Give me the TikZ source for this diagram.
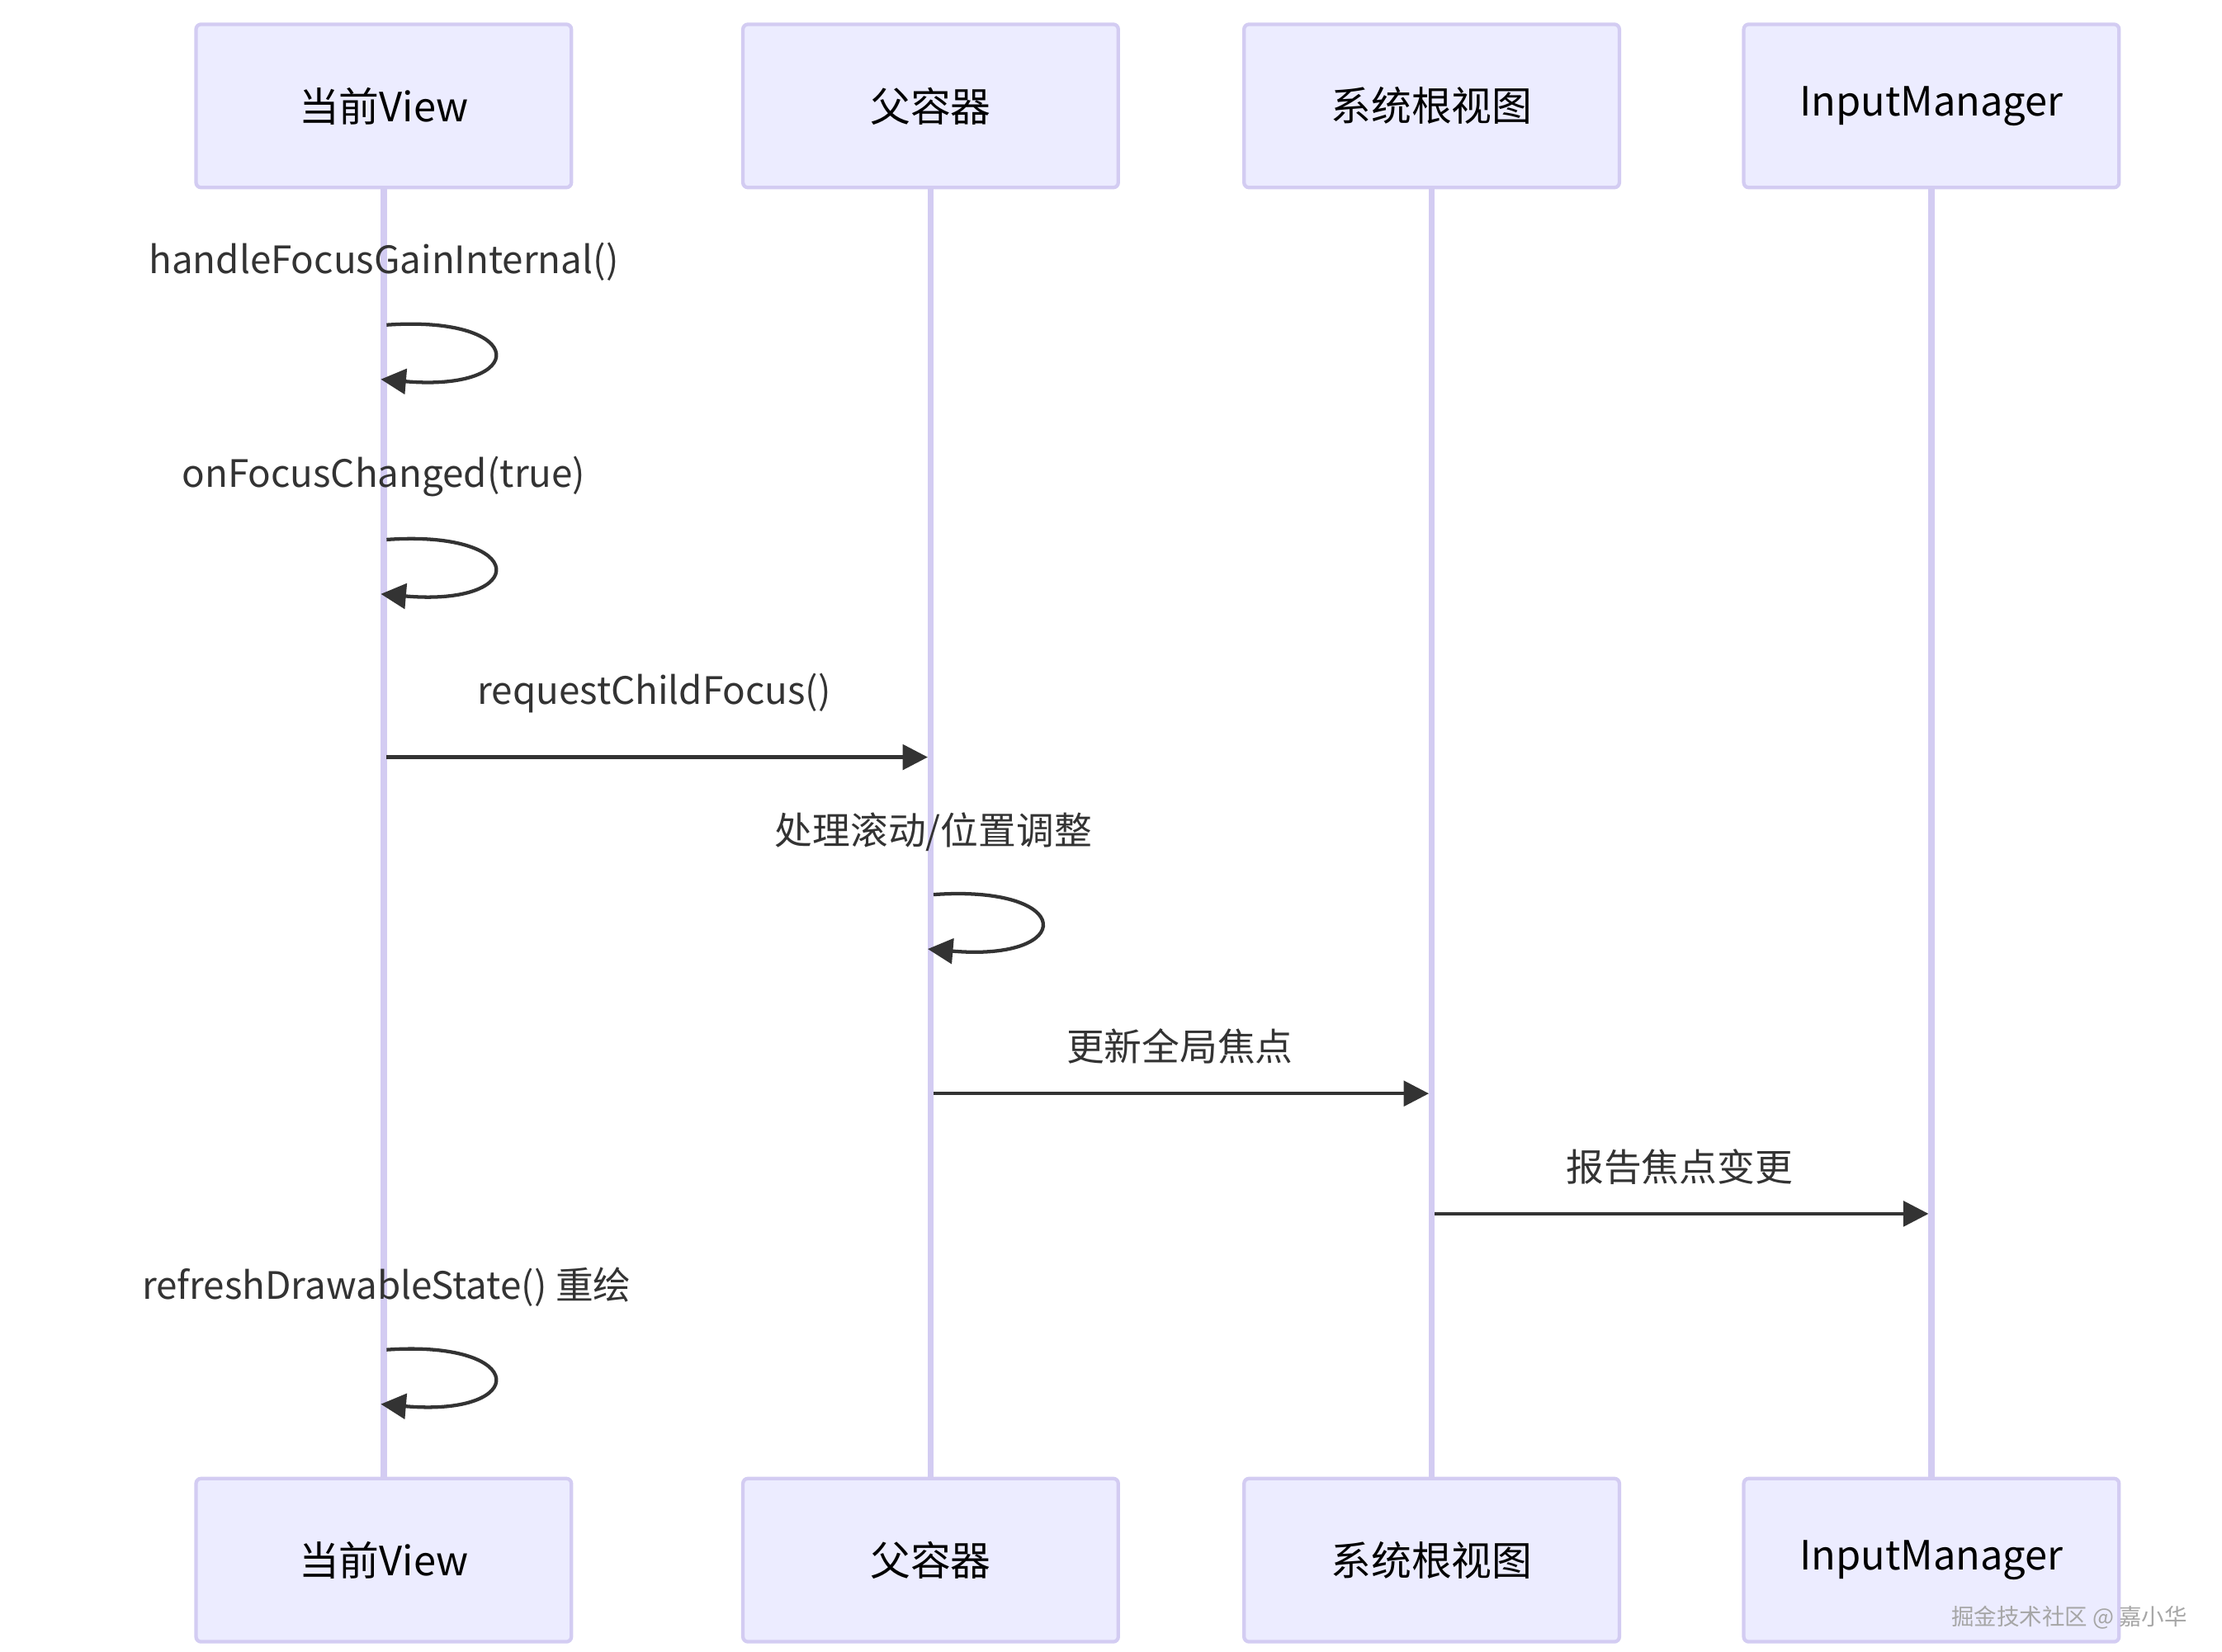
\documentclass[tikz,border=0pt]{standalone}
\usepackage{fontspec}
\setmainfont{Noto Sans CJK SC}
\usetikzlibrary{arrows.meta}
\definecolor{actfill}{HTML}{ECECFF}
\definecolor{actline}{HTML}{D3CCF2}
\definecolor{msgline}{HTML}{333333}
\begin{document}
\begin{tikzpicture}[x=0.01cm,y=-0.01cm,
    actor/.style={draw=actline, fill=actfill, line width=0.7pt, rounded corners=1pt,
      minimum width=2.62cm, minimum height=1.14cm, font=\fontsize{8}{10}\selectfont},
    life/.style={draw=actline, line width=1.2pt},
    msg/.style={draw=msgline, line width=0.7pt, -{Triangle[length=5pt,width=5pt]}},
    lbl/.style={font=\fontsize{7.5}{9}\selectfont, text=msgline}]
  \useasboundingbox (0,0) rectangle (1552,1154);

  \foreach \n/\x/\t in {a/268/当前View, b/650/父容器, c/1000/系统根视图, d/1349/InputManager} {
    \draw[life] (\x,131) -- (\x,1033);
    \node[actor] (\n top) at (\x,74) {\t};
    \node[actor] (\n bot) at (\x,1090) {\t};
  }

  \node[lbl] (m1) at (268,183) {handleFocusGainInternal()};
  \draw[msg] (270,227) .. controls (370,220) and (370,274) .. (266,265);
  \node[lbl] (m2) at (268,333) {onFocusChanged(true)};
  \draw[msg] (270,377) .. controls (370,370) and (370,424) .. (266,415);
  \node[lbl] (m3) at (457,484) {requestChildFocus()};
  \coordinate (p1) at (270,529);
  \coordinate (p2) at (648,529);
  \draw[msg] (p1) -- (p2);
  \node[lbl] (m4) at (652,581) {处理滚动/位置调整};
  \draw[msg] (652,625) .. controls (752,618) and (752,672) .. (648,663);
  \node[lbl] (m5) at (824,731) {更新全局焦点};
  \coordinate (p3) at (652,764);
  \coordinate (p4) at (998,764);
  \draw[msg] (p3) -- (p4);
  \node[lbl] (m6) at (1173,815) {报告焦点变更};
  \coordinate (p5) at (1002,848);
  \coordinate (p6) at (1347,848);
  \draw[msg] (p5) -- (p6);
  \node[lbl] (m7) at (270,899) {refreshDrawableState() 重绘};
  \draw[msg] (270,943) .. controls (370,936) and (370,990) .. (266,981);

  \node[font=\fontsize{4.5}{5}\selectfont, text=gray!70, anchor=east] (wm) at (1540,1130) {掘金技术社区 @ 嘉小华};
\end{tikzpicture}
\end{document}
